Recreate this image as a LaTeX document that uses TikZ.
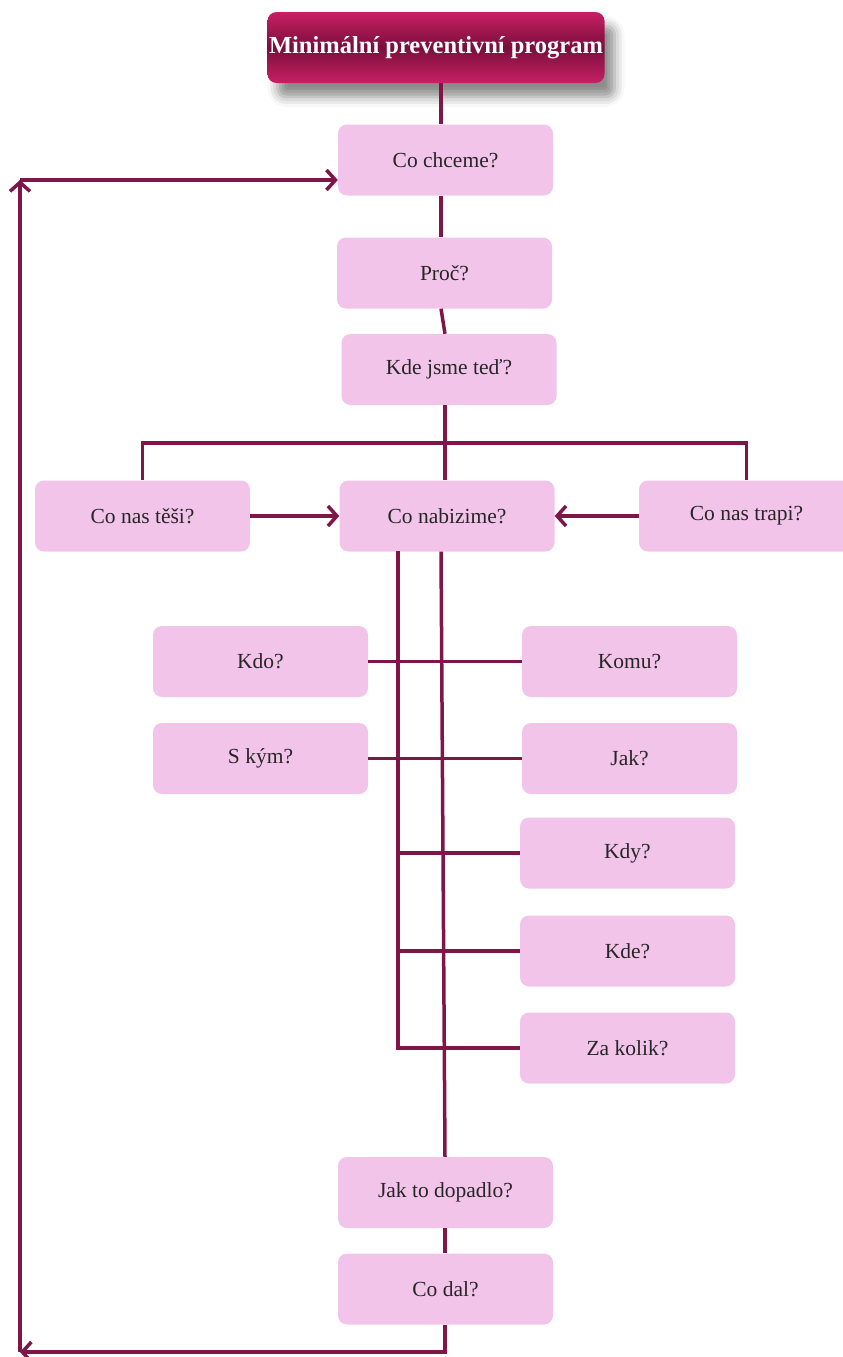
\documentclass[tikz,border=0pt]{standalone}
\usepackage{fontspec}
\setmainfont{Liberation Serif}
\usetikzlibrary{arrows.meta, positioning, shadows.blur}

\definecolor{linecol}{RGB}{128,22,72}
\definecolor{boxcol}{RGB}{242,196,234}
\definecolor{titletop}{RGB}{200,32,100}
\definecolor{titlemid}{RGB}{122,14,60}

\tikzset{
	qbox/.style={fill=boxcol, rounded corners=9pt, minimum width=215pt, minimum height=71pt,
		inner sep=0pt, font=\fontsize{21.5}{24}\selectfont, text=black!85},
	titlebox/.style={rounded corners=9pt, minimum width=337pt, minimum height=71pt, inner sep=0pt,
		top color=titletop, bottom color=titletop, middle color=titlemid,
		font=\fontsize{24.5}{28}\selectfont\bfseries, text=white,
		blur shadow={shadow xshift=10pt, shadow yshift=-14pt, shadow blur radius=10pt, shadow opacity=45}},
	conn/.style={draw=linecol, line width=3.5pt},
	arr/.style={conn, -{Straight Barb[length=9pt, width=20pt, line width=3.5pt]}},
}

\begin{document}
\begin{tikzpicture}[x=1pt, y=-1pt]

\useasboundingbox (0,0) rectangle (843,1357);

\node [titlebox] (title) at (436,47.5) {Minimální preventivní program};

\node [qbox] (chceme) at (445.5,160) {Co chceme?};
\node [qbox] (proc) at (444.5,273) {Proč?};
\node [qbox] (kde) at (449,369.5) {Kde jsme teď?};

\node [qbox] (tesi) at (142.5,516) {Co nas těši?};
\node [qbox] (nabizime) at (447,516) {Co nabizime?};
\node [qbox] (trapi) at (746.5,516) {Co nas trapi?};

\node [qbox] (kdo) at (260.5,661.5) {Kdo?};
\node [qbox] (komu) at (629.5,661.5) {Komu?};
\node [qbox] (skym) at (260.5,758.5) {S kým?};
\node [qbox] (jak) at (629.5,758.5) {Jak?};

\node [qbox] (kdy) at (627.5,853) {Kdy?};
\node [qbox] (kdekde) at (627.5,951) {Kde?};
\node [qbox] (zakolik) at (627.5,1048) {Za kolik?};

\node [qbox] (dopadlo) at (445.5,1192.5) {Jak to dopadlo?};
\node [qbox] (dal) at (445.5,1289) {Co dal?};

% main column
\coordinate (spine) at (441,0);
\coordinate (spine2) at (445,0);
\path [conn] (title.south -| spine) -- (chceme.north -| spine);
\path [conn] (chceme.south -| spine) -- (proc.north -| spine);
\path [conn] (proc.south -| spine) -- (kde.north -| spine2);
\path [conn] (kde.south -| spine2) -- (nabizime.north -| spine2);

% branch to the sides
\coordinate (split) at (spine2 |- 0,443);
\path [conn] (tesi.north) |- (split) -| (trapi.north);
\path [arr] (tesi.east) -- (nabizime.west);
\path [arr] (trapi.west) -- (nabizime.east);

% what we offer
\coordinate (rail) at (398,551);
\path [conn] (rail) |- (zakolik.west);
\path [conn] (rail |- kdy.west) -- (kdy.west);
\path [conn] (rail |- kdekde.west) -- (kdekde.west);
\path [conn] (kdo.east) -- (komu.west);
\path [conn] (skym.east) -- (jak.west);
\path [conn] (nabizime.south -| spine) -- (dopadlo.north -| spine2);
\path [conn] (dopadlo.south -| spine2) -- (dal.north -| spine2);

% feedback loop
\coordinate (loopbot) at (20,1352);
\coordinate (looptop) at (20,180);
\path [arr] (dal.south -| spine2) |- (loopbot);
\path [arr] (loopbot) -- (looptop);
\path [arr] (looptop) -- (chceme.west |- looptop);

\end{tikzpicture}
\end{document}
